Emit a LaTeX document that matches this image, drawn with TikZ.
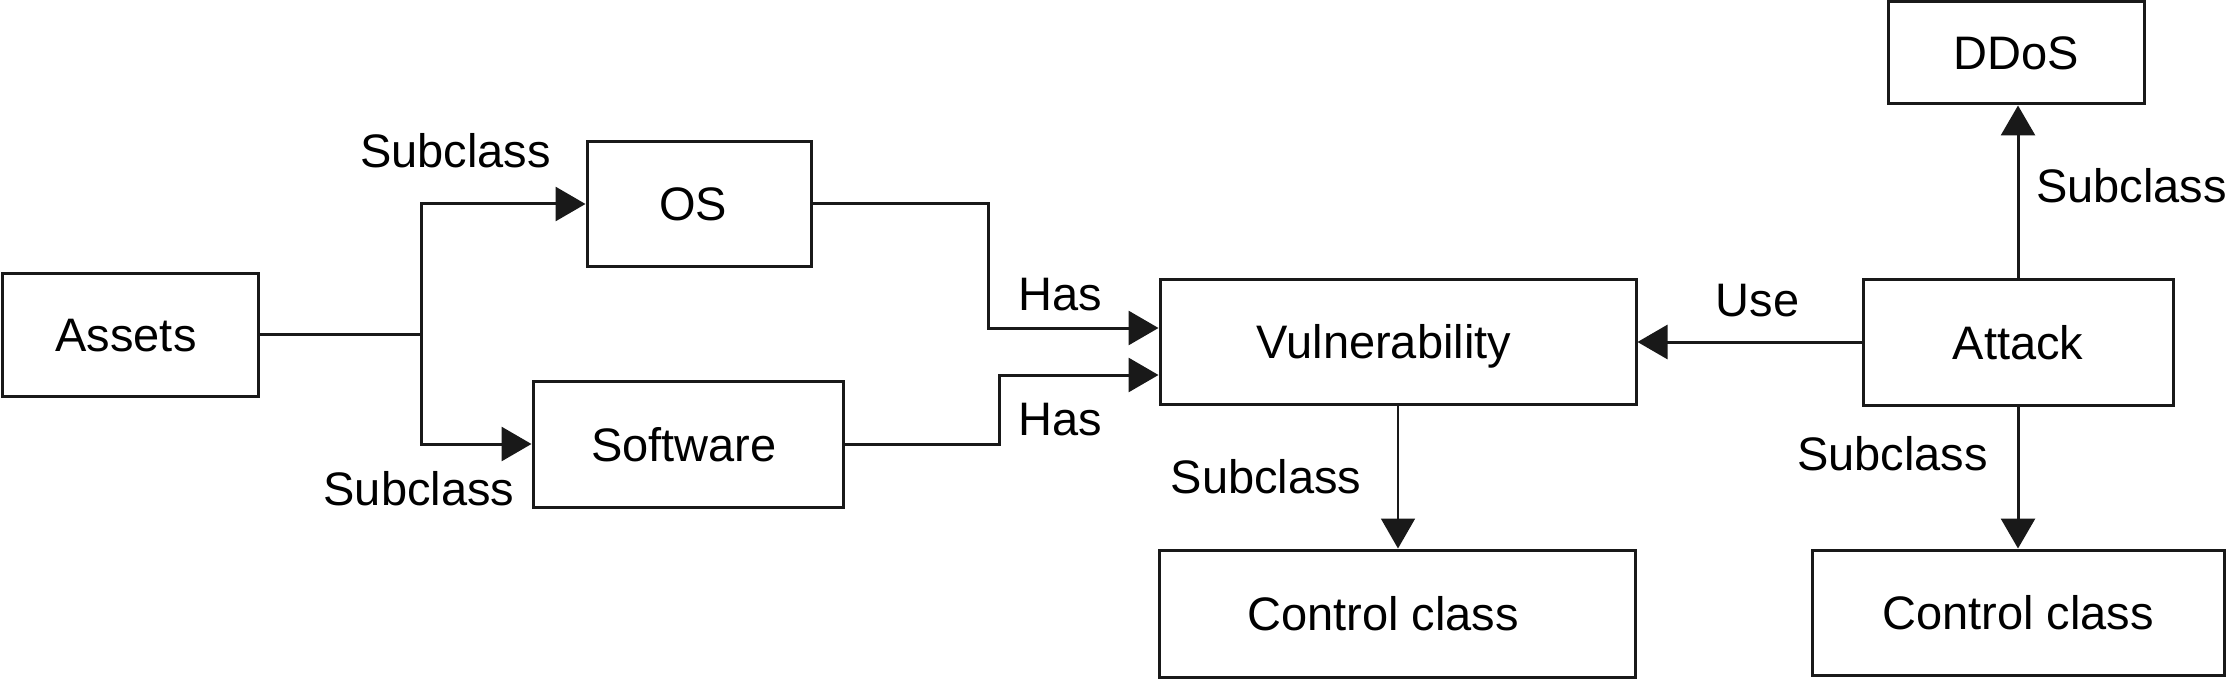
\documentclass[tikz,border=0pt]{standalone}
\usepackage{fontspec}
\setmainfont{Liberation Sans}
\usetikzlibrary{arrows.meta}
\begin{document}
\begin{tikzpicture}[x=1pt,y=-1pt,
  box/.style={draw=black!90, line width=3pt, inner sep=0pt, font=\fontsize{47}{56}\selectfont, text height=34pt, text depth=0pt},
  lbl/.style={inner sep=0pt, anchor=base, font=\fontsize{47}{56}\selectfont},
  conn/.style={draw=black!90, line width=3pt},
  arr/.style={conn, -{Triangle[length=30pt,width=34pt]}},
]
\useasboundingbox (0,0) rectangle (2230,679);
\fill[white] (0,0) rectangle (2230,679);
% boxes
\node[box, minimum width=256pt, minimum height=123pt] (assets) at (130,334.5) {Assets\hspace*{8pt}};
\node[box, minimum width=224pt, minimum height=124pt] (os) at (699,204) {OS\hspace*{12pt}};
\node[box, minimum width=310pt, minimum height=126pt] (software) at (688,444) {Software\hspace*{8pt}};
\node[box, minimum width=476pt, minimum height=125pt] (vuln) at (1398,341.5) {Vulnerability\hspace*{28pt}};
\node[box, minimum width=476pt, minimum height=127pt] (ctrlA) at (1397,613.5) {Control class\hspace*{28pt}};
\node[box, minimum width=256pt, minimum height=102pt] (ddos) at (2016,53) {DDoS};
\node[box, minimum width=310pt, minimum height=126pt] (attack) at (2018,342) {Attack};
\node[box, minimum width=412pt, minimum height=125pt] (ctrlB) at (2018,612.5) {Control class};
% connectors
\coordinate (jn) at (421,334.5);
\draw[conn] (assets.east) -- (jn);
\draw[arr] (jn) |- (os.west);
\draw[arr] (jn) |- (software.west);
\draw[arr] (os.east) -- ++(176,0) |- ([yshift=13.5pt]vuln.west);
\draw[arr] (software.east) -- ++(155,0) |- ([yshift=-33.5pt]vuln.west);
\draw[arr] (attack.west) -- (attack.west -| vuln.east);
\draw[arr, line width=1.8pt] (vuln.south) -- (vuln.south |- ctrlA.north);
\draw[arr] (attack.north) -- (attack.north |- ddos.south);
\draw[arr] (attack.south) -- (attack.south |- ctrlB.north);
% labels
\node[lbl] (s1) at (455.5,168) {Subclass};
\node[lbl] (s2) at (419,505) {Subclass};
\node[lbl] (h1) at (1060.5,310) {Has};
\node[lbl] (h2) at (1060.5,435) {Has};
\node[lbl] (s3) at (1266,493) {Subclass};
\node[lbl] (u1) at (1757.5,316) {Use};
\node[lbl] (s4) at (2131.5,203) {Subclass};
\node[lbl] (s5) at (1892.5,470) {Subclass};
\end{tikzpicture}
\end{document}
